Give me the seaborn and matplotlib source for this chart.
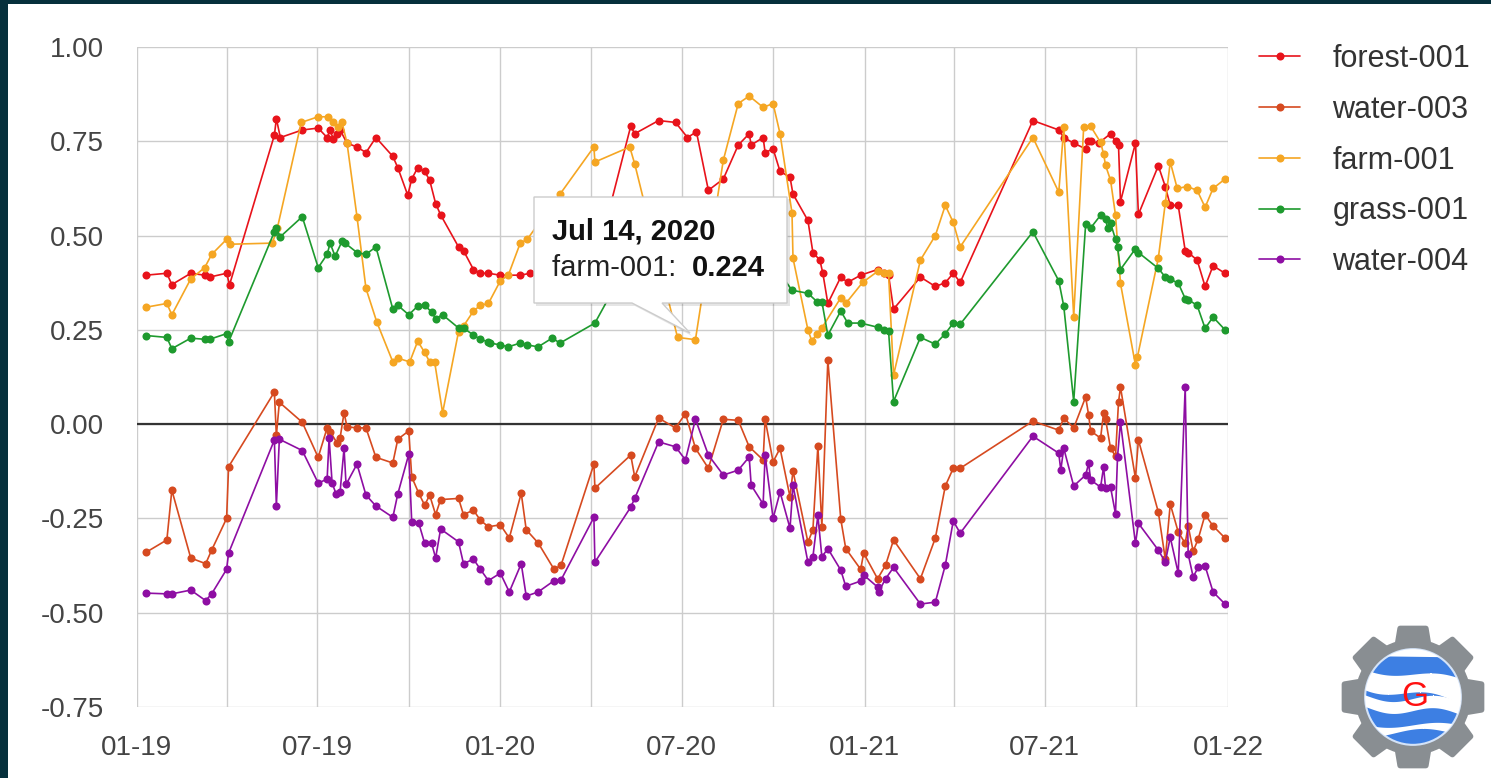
import numpy as np
import pandas as pd
import seaborn as sns
import matplotlib.pyplot as plt
import matplotlib.dates as mdates
from matplotlib.lines import Line2D
from matplotlib.patches import Rectangle, Polygon, Circle

# dates are day offsets from 2019-01-01
START = "2019-01-01"

names = ["forest-001", "water-003", "farm-001", "grass-001", "water-004"]
colors = ["#e8131b", "#d64a20", "#f5a623", "#1e9a2e", "#8e0ea3"]

forest_days = [9, 30, 35, 54, 68, 73, 90, 93, 138, 140, 144, 166, 182, 191, 194, 197, 201, 204, 211,
               221, 230, 240, 257, 262, 272, 276, 282, 289, 294, 300, 305, 323, 328, 338, 345, 353, 365,
               385, 395, 403, 419, 426, 460, 496, 500, 524, 541, 553, 562, 574, 589, 604, 615, 617, 629,
               631, 639, 646, 656, 659, 674, 679, 686, 689, 694, 707, 714, 727, 744, 750, 755, 760, 787,
               802, 812, 820, 827, 900, 926, 931, 941, 953, 955, 958, 966, 978, 983, 986, 988, 1003, 1006,
               1026, 1033, 1038, 1046, 1053, 1056, 1065, 1073, 1081, 1093]
forest_vals = [0.395, 0.40, 0.37, 0.40, 0.395, 0.39, 0.40, 0.37, 0.766, 0.81, 0.76, 0.78, 0.785, 0.76,
               0.78, 0.757, 0.77, 0.78, 0.745, 0.735, 0.72, 0.76, 0.71, 0.68, 0.607, 0.65, 0.68, 0.67,
               0.647, 0.585, 0.555, 0.47, 0.46, 0.41, 0.40, 0.40, 0.395, 0.395, 0.40, 0.39, 0.40, 0.41,
               0.42, 0.79, 0.77, 0.805, 0.80, 0.76, 0.775, 0.62, 0.65, 0.74, 0.77, 0.74, 0.76, 0.72, 0.73,
               0.67, 0.655, 0.61, 0.54, 0.455, 0.435, 0.40, 0.32, 0.39, 0.376, 0.395, 0.41, 0.40, 0.395,
               0.305, 0.39, 0.365, 0.375, 0.40, 0.376, 0.805, 0.78, 0.76, 0.745, 0.73, 0.75, 0.75, 0.745,
               0.77, 0.75, 0.74, 0.59, 0.745, 0.556, 0.685, 0.63, 0.58, 0.58, 0.46, 0.455, 0.435, 0.365,
               0.42, 0.40]

water3_days = [9, 30, 35, 54, 69, 75, 90, 92, 138, 140, 143, 166, 182, 191, 194, 201, 204, 208, 211,
               221, 230, 240, 257, 262, 273, 276, 283, 289, 294, 300, 305, 323, 328, 338, 345, 353, 365,
               374, 386, 391, 403, 419, 426, 459, 460, 496, 500, 524, 541, 551, 561, 574, 589, 604, 615,
               629, 631, 639, 646, 656, 659, 674, 679, 684, 688, 694, 707, 712, 727, 730, 744, 752, 760,
               787, 802, 812, 820, 827, 900, 926, 931, 941, 953, 956, 958, 968, 971, 973, 978, 983, 986,
               988, 1003, 1006, 1026, 1033, 1038, 1046, 1053, 1056, 1061, 1066, 1073, 1081, 1093]
water3_vals = [-0.34, -0.307, -0.175, -0.355, -0.37, -0.334, -0.25, -0.113, 0.085, -0.03, 0.058, 0.005,
               -0.088, -0.01, -0.02, -0.05, -0.037, 0.03, -0.007, -0.01, -0.01, -0.088, -0.103, -0.04,
               -0.018, -0.14, -0.183, -0.215, -0.188, -0.24, -0.2, -0.197, -0.24, -0.228, -0.255, -0.272,
               -0.267, -0.302, -0.183, -0.28, -0.315, -0.385, -0.374, -0.106, -0.17, -0.082, -0.14, 0.016,
               -0.01, 0.028, -0.064, -0.117, 0.013, 0.01, -0.06, -0.095, 0.013, -0.1, -0.064, -0.193,
               -0.124, -0.313, -0.28, -0.058, -0.272, 0.17, -0.252, -0.33, -0.385, -0.342, -0.41, -0.374,
               -0.307, -0.41, -0.302, -0.164, -0.117, -0.117, 0.008, -0.016, 0.016, -0.01, 0.072, 0.024,
               -0.018, -0.037, 0.03, 0.013, -0.064, -0.085, 0.058, 0.098, -0.143, -0.042, -0.233, -0.358,
               -0.212, -0.286, -0.316, -0.27, -0.337, -0.305, -0.24, -0.27, -0.302]

farm_days = [9, 30, 35, 54, 68, 75, 90, 93, 136, 141, 165, 182, 192, 197, 202, 206, 211, 221, 230, 241,
             257, 262, 274, 282, 289, 294, 299, 307, 323, 328, 338, 345, 353, 365, 373, 385, 392, 425,
             459, 460, 495, 500, 543, 561, 589, 604, 615, 629, 639, 646, 658, 659, 674, 678, 683, 688,
             707, 712, 729, 744, 750, 755, 760, 787, 802, 812, 820, 827, 900, 926, 931, 941, 951, 958,
             968, 971, 973, 978, 983, 988, 1003, 1005, 1026, 1033, 1038, 1045, 1055, 1065, 1073, 1081, 1093]
farm_vals = [0.31, 0.32, 0.29, 0.385, 0.415, 0.45, 0.49, 0.477, 0.48, 0.52, 0.80, 0.815, 0.815, 0.80,
             0.787, 0.80, 0.745, 0.55, 0.36, 0.27, 0.165, 0.175, 0.165, 0.22, 0.19, 0.165, 0.165, 0.03,
             0.245, 0.26, 0.30, 0.315, 0.32, 0.38, 0.395, 0.48, 0.49, 0.61, 0.735, 0.695, 0.735, 0.69,
             0.23, 0.224, 0.70, 0.85, 0.87, 0.84, 0.85, 0.77, 0.56, 0.44, 0.25, 0.22, 0.24, 0.255, 0.335,
             0.32, 0.376, 0.405, 0.40, 0.40, 0.13, 0.435, 0.50, 0.58, 0.535, 0.47, 0.76, 0.615, 0.787,
             0.285, 0.787, 0.79, 0.747, 0.717, 0.686, 0.647, 0.554, 0.373, 0.157, 0.178, 0.44, 0.586,
             0.695, 0.625, 0.63, 0.62, 0.575, 0.625, 0.65]

grass_days = [9, 30, 35, 54, 68, 73, 90, 92, 138, 140, 144, 166, 182, 191, 194, 199, 206, 209, 221, 230,
              240, 257, 262, 273, 282, 289, 296, 300, 307, 323, 328, 338, 345, 353, 355, 365, 373, 385,
              392, 403, 417, 425, 460, 475, 496, 524, 541, 561, 589, 604, 629, 646, 658, 674, 683, 688,
              694, 707, 714, 727, 744, 750, 755, 760, 787, 802, 812, 820, 827, 900, 926, 931, 941, 953,
              958, 968, 973, 975, 978, 983, 985, 988, 1003, 1006, 1026, 1033, 1038, 1046, 1053, 1056,
              1065, 1073, 1081, 1093]
grass_vals = [0.235, 0.23, 0.20, 0.228, 0.225, 0.225, 0.24, 0.218, 0.51, 0.52, 0.497, 0.55, 0.415, 0.45,
              0.48, 0.445, 0.485, 0.48, 0.455, 0.45, 0.47, 0.305, 0.315, 0.29, 0.313, 0.315, 0.297, 0.28,
              0.29, 0.255, 0.255, 0.236, 0.225, 0.218, 0.215, 0.21, 0.205, 0.215, 0.21, 0.205, 0.228,
              0.215, 0.268, 0.34, 0.45, 0.50, 0.52, 0.48, 0.45, 0.47, 0.45, 0.40, 0.355, 0.347, 0.325,
              0.325, 0.236, 0.30, 0.268, 0.268, 0.257, 0.25, 0.247, 0.06, 0.23, 0.212, 0.24, 0.268, 0.265,
              0.51, 0.38, 0.313, 0.06, 0.53, 0.52, 0.554, 0.545, 0.52, 0.533, 0.49, 0.47, 0.41, 0.465,
              0.455, 0.413, 0.39, 0.384, 0.374, 0.333, 0.33, 0.315, 0.254, 0.284, 0.25]

water4_days = [9, 30, 35, 54, 69, 75, 90, 92, 138, 140, 143, 166, 182, 191, 193, 196, 200, 204, 208, 210,
               221, 230, 240, 257, 262, 273, 276, 283, 289, 296, 300, 305, 323, 328, 338, 345, 353, 365,
               374, 386, 391, 403, 419, 426, 459, 460, 496, 500, 524, 541, 551, 561, 574, 589, 604, 615,
               617, 629, 631, 639, 646, 656, 659, 674, 679, 684, 688, 694, 707, 712, 727, 730, 744, 745,
               752, 760, 787, 802, 812, 820, 827, 900, 926, 928, 931, 941, 953, 956, 958, 968, 971, 973,
               978, 983, 985, 988, 1003, 1006, 1026, 1033, 1038, 1046, 1053, 1056, 1061, 1066, 1073,
               1081, 1093]
water4_vals = [-0.448, -0.45, -0.45, -0.44, -0.468, -0.45, -0.385, -0.342, -0.042, -0.217, -0.04, -0.07,
               -0.156, -0.146, -0.037, -0.156, -0.185, -0.18, -0.064, -0.16, -0.106, -0.188, -0.217,
               -0.247, -0.185, -0.08, -0.26, -0.262, -0.316, -0.316, -0.355, -0.278, -0.312, -0.37,
               -0.358, -0.385, -0.415, -0.395, -0.445, -0.37, -0.456, -0.445, -0.415, -0.413, -0.247,
               -0.366, -0.22, -0.197, -0.047, -0.06, -0.095, 0.013, -0.082, -0.135, -0.122, -0.087,
               -0.162, -0.212, -0.082, -0.25, -0.18, -0.276, -0.162, -0.366, -0.352, -0.242, -0.352,
               -0.33, -0.387, -0.43, -0.416, -0.40, -0.432, -0.445, -0.41, -0.38, -0.477, -0.472, -0.374,
               -0.257, -0.289, -0.032, -0.077, -0.122, -0.064, -0.164, -0.135, -0.104, -0.148, -0.167,
               -0.114, -0.17, -0.167, -0.238, -0.087, 0.005, -0.316, -0.263, -0.334, -0.366, -0.30,
               -0.395, 0.098, -0.345, -0.405, -0.38, -0.376, -0.445, -0.477]

tooltip_date = "Jul 14, 2020"
tooltip_series = "farm-001"
tooltip_value = "0.224"

y_ticks = [-0.75, -0.50, -0.25, 0.00, 0.25, 0.50, 0.75, 1.00]

frames = []
for name, d, v in [("forest-001", forest_days, forest_vals),
                   ("water-003", water3_days, water3_vals),
                   ("farm-001", farm_days, farm_vals),
                   ("grass-001", grass_days, grass_vals),
                   ("water-004", water4_days, water4_vals)]:
    part = pd.DataFrame({"day": d, "value": v})
    part["series"] = name
    frames.append(part)
df = pd.concat(frames, ignore_index=True)
df["date"] = pd.Timestamp(START) + pd.to_timedelta(df["day"], unit="D")

sns.set_theme(style="white")
plt.rcParams["font.family"] = ["Liberation Sans", "DejaVu Sans"]

W, H = 1491, 778
def fx(px):
    return px / W
def fy(py):
    return 1 - py / H

fig = plt.figure(figsize=(W / 100, H / 100), dpi=100)
fig.patch.set_facecolor("#06303c")
fig.add_artist(Rectangle((fx(8), 0), 1, fy(4), transform=fig.transFigure,
                         facecolor="white", edgecolor="none", zorder=-5))

ax = fig.add_axes([fx(137), fy(707), fx(1228) - fx(137), fy(47) - fy(707)])
ax.set_facecolor("white")

sns.lineplot(data=df, x="date", y="value", hue="series", hue_order=names,
             palette=dict(zip(names, colors)), marker="o", markersize=5.8,
             markeredgewidth=0, linewidth=1.2, estimator=None, legend=False, ax=ax)

ax.axhline(0, color="#333333", lw=1.6, zorder=1.5)

ax.set_xlim(pd.Timestamp("2019-01-01"), pd.Timestamp("2022-01-01"))
ax.set_ylim(-0.75, 1.0)
ax.xaxis.set_major_locator(mdates.MonthLocator(bymonth=[1, 7]))
ax.xaxis.set_major_formatter(mdates.DateFormatter("%m-%y"))
ax.xaxis.set_minor_locator(mdates.MonthLocator(bymonth=[4, 10]))
ax.set_yticks(y_ticks)
ax.set_yticklabels([f"{t:.2f}" for t in y_ticks])
ax.grid(True, which="both", color="#cccccc", lw=1)
ax.set_axisbelow(True)
for s in ax.spines.values():
    s.set_visible(False)
ax.tick_params(axis="both", which="both", length=0, labelsize=20, colors="#444444")
ax.tick_params(axis="y", pad=24)
ax.tick_params(axis="x", pad=20)
ax.set_xlabel("")
ax.set_ylabel("")

handles = [Line2D([], [], color=c, lw=1.2, marker="o", markersize=5.8, markeredgewidth=0) for c in colors]
ax.legend(handles, names, loc="upper left", bbox_to_anchor=(fx(1259), fy(44)),
          bbox_transform=fig.transFigure, frameon=False, fontsize=22, handlelength=1.35,
          handletextpad=1.05, labelspacing=0.68, borderpad=0, borderaxespad=0,
          labelcolor="#333333")

# tooltip
shadow = [(536, 199), (790, 199), (790, 306), (665, 306), (692, 336), (635, 306), (536, 306)]
fig.add_artist(Polygon([(fx(x), fy(y)) for x, y in shadow], closed=True, transform=fig.transFigure,
                       facecolor="#000000", alpha=0.10, edgecolor="none", zorder=5))
box = [(534, 197), (787, 197), (787, 303), (662, 303), (690, 333), (632, 303), (534, 303)]
fig.add_artist(Polygon([(fx(x), fy(y)) for x, y in box], closed=True, transform=fig.transFigure,
                       facecolor="white", edgecolor="#cccccc", lw=1, zorder=6))
fig.text(fx(552), fy(232), tooltip_date, fontsize=21, fontweight="bold", color="#111111",
         ha="left", va="center", zorder=7)
fig.text(fx(552), fy(268), tooltip_series + ": ", fontsize=21, color="#222222",
         ha="left", va="center", zorder=7)
fig.text(fx(692), fy(268), tooltip_value, fontsize=21, fontweight="bold", color="#111111",
         ha="left", va="center", zorder=7)

# Earth Engine logo
lax = fig.add_axes([fx(1413 - 75), fy(697 + 75), 150 / W, 150 / H])
lax.set_xlim(-1.05, 1.05)
lax.set_ylim(-1.05, 1.05)
lax.set_aspect("equal")
lax.axis("off")
gear = "#898e92"
lax.add_patch(Circle((0, 0), 0.8, color=gear))
for k in range(8):
    a = np.deg2rad(45 * k)
    pts = np.array([[-0.24, 0.6], [0.24, 0.6], [0.18, 0.96], [-0.18, 0.96]])
    rot = np.array([[np.cos(a), -np.sin(a)], [np.sin(a), np.cos(a)]])
    lax.add_patch(Polygon(pts @ rot.T, closed=True, facecolor=gear, edgecolor=gear,
                          lw=4, joinstyle="round"))
globe = Circle((0, 0), 0.67, facecolor="#3d7fe3", edgecolor="#d4e3f8", lw=1.5, zorder=3)
lax.add_patch(globe)
xs = np.linspace(-0.75, 0.75, 200)
t = (xs + 0.75) / 1.5
bands = [
    (0.58 - 0.02 * t, 0.80 + 0 * t),
    (0.18 - 0.30 * t + 0.08 * np.sin(4 * xs + 0.5), 0.42 - 0.20 * t + 0.06 * np.sin(4 * xs)),
    (-0.14 - 0.10 * t + 0.06 * np.sin(5 * xs), 0.02 - 0.08 * t + 0.06 * np.sin(5 * xs)),
    (-0.50 + 0.06 * np.sin(4 * xs + 1), -0.36 - 0.06 * t + 0.05 * np.sin(4 * xs)),
]
for lo, hi in bands:
    poly = lax.fill_between(xs, lo, hi, color="white", lw=0, zorder=4)
    poly.set_clip_path(globe)
lax.text(0.03, 0.0, "G", color="#ff1010", fontsize=25, ha="center", va="center", zorder=5)

plt.savefig("out.png", dpi=100)
